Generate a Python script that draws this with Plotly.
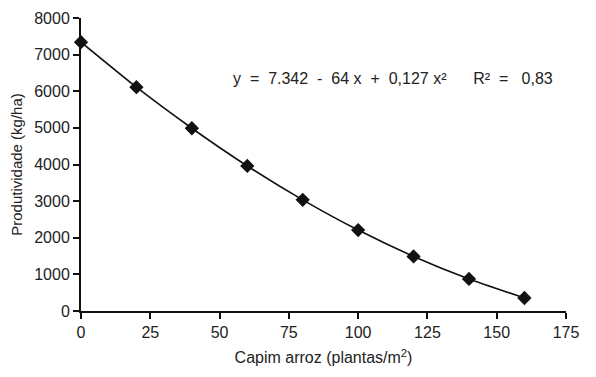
import plotly.graph_objects as go

# Capim arroz density (plants/m²) and rice yield (kg/ha)
densidade = [0, 20, 40, 60, 80, 100, 120, 140, 160]
produtividade = [7340, 6110, 4990, 3960, 3035, 2210, 1490, 875, 355]

x_ticks = [0, 25, 50, 75, 100, 125, 150, 175]
y_ticks = [0, 1000, 2000, 3000, 4000, 5000, 6000, 7000, 8000]

equacao = "y  =  7.342  -  64 x  +  0,127 x²      R²  =   0,83"

FONT = "Liberation Sans, Arial, sans-serif"

fig = go.Figure()
fig.add_trace(go.Scatter(
    x=densidade, y=produtividade,
    mode="lines+markers",
    line=dict(color="#111111", width=1.6, shape="spline", smoothing=0.5),
    marker=dict(symbol="diamond", size=11, color="#111111"),
    showlegend=False,
    cliponaxis=False,
))

axis_common = dict(
    showgrid=False, zeroline=False, showline=True,
    linecolor="#111111", linewidth=2,
    ticks="outside", ticklen=6, tickwidth=2, tickcolor="#111111",
    tickfont=dict(family=FONT, size=16, color="#222222"),
)

fig.update_xaxes(
    range=[0, 175], tickvals=x_ticks, ticktext=[str(v) for v in x_ticks],
    title=dict(text="Capim arroz (plantas/m<sup>2</sup>)",
               font=dict(family=FONT, size=16, color="#222222"), standoff=12),
    **axis_common,
)
fig.update_yaxes(
    range=[0, 8000], tickvals=y_ticks, ticktext=[str(v) for v in y_ticks],
    title=dict(text="Produtividade (kg/ha)",
               font=dict(family=FONT, size=15, color="#222222"), standoff=8),
    **axis_common,
)

fig.add_annotation(
    x=0.31, y=0.795, xref="paper", yref="paper",
    xanchor="left", yanchor="middle",
    text=equacao, showarrow=False,
    font=dict(family=FONT, size=16, color="#222222"),
)

fig.update_layout(
    width=596, height=377,
    margin=dict(l=81, r=30, t=10, b=66),
    paper_bgcolor="white", plot_bgcolor="white",
)

fig.write_html("out.html")
